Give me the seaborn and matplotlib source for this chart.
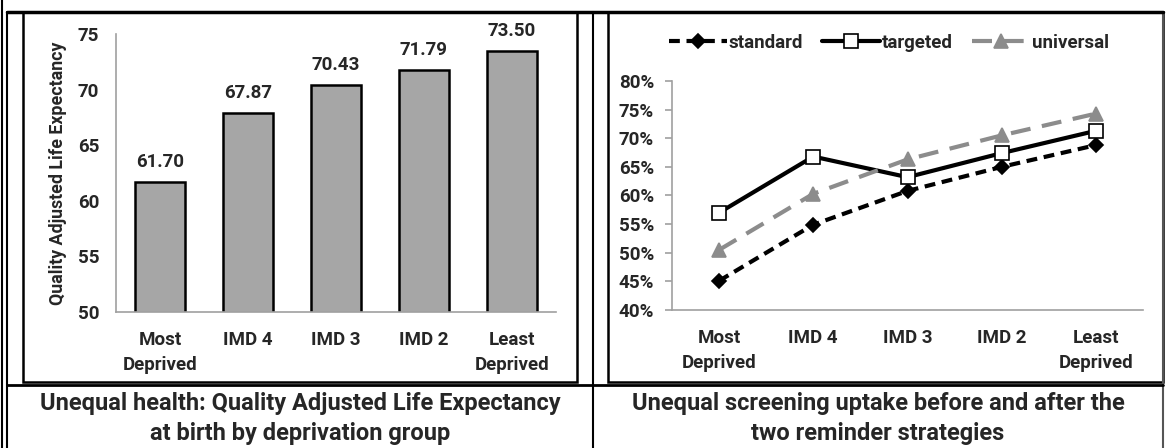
import numpy as np
import pandas as pd
import matplotlib
matplotlib.use("Agg")
import matplotlib.pyplot as plt
import seaborn as sns
from matplotlib.lines import Line2D
from matplotlib.patches import Rectangle
from matplotlib.ticker import PercentFormatter, FixedLocator

# Data
groups = ["Most\nDeprived", "IMD 4", "IMD 3", "IMD 2", "Least\nDeprived"]
qale = [61.70, 67.87, 70.43, 71.79, 73.50]

standard = [0.451, 0.549, 0.608, 0.650, 0.688]
targeted = [0.570, 0.668, 0.632, 0.674, 0.713]
universal = [0.505, 0.603, 0.663, 0.705, 0.743]

caption_left = ["Unequal health: Quality Adjusted Life Expectancy", "at birth by deprivation group"]
caption_right = ["Unequal screening uptake before and after the", "two reminder strategies"]

sns.set_style("white")
plt.rcParams['font.family'] = ['Roboto', 'DejaVu Sans']
plt.rcParams['font.weight'] = 'bold'

W, H = 1166, 448
fig = plt.figure(figsize=(W / 100, H / 100), dpi=100)


def px_axes(x0, y0, x1, y1):
    # pixel box (top-left origin) -> figure axes
    return fig.add_axes([x0 / W, 1 - y1 / H, (x1 - x0) / W, (y1 - y0) / H])


def hline(y, x0, x1, lw=1.5, c="black"):
    fig.add_artist(Line2D([x0 / W, x1 / W], [1 - y / H, 1 - y / H], lw=lw, color=c))


def vline(x, y0, y1, lw=1.5, c="black"):
    fig.add_artist(Line2D([x / W, x / W], [1 - y0 / H, 1 - y1 / H], lw=lw, color=c))


# table frame
vline(2, 0, H)
vline(7, 12, H)
vline(593, 12, H)
vline(1163, 12, H, c="#555555")
hline(12, 7, 1163, lw=2.5)
hline(385, 7, 1163, lw=2)
for (x0, y0, x1, y1) in [(23, 12, 577, 382), (608, 12, 1163, 382)]:
    fig.add_artist(Rectangle((x0 / W, 1 - y1 / H), (x1 - x0) / W, (y1 - y0) / H,
                             fill=False, ec="black", lw=1.8))

FS = 13.5

# left: bar chart
ax1 = px_axes(116, 34, 556, 312)
df1 = pd.DataFrame({"group": groups, "qale": qale})
sns.barplot(data=df1, x="group", y="qale", color="#a6a6a6", edgecolor="black",
            linewidth=1.8, width=0.57, saturation=1, ax=ax1)
ax1.set_ylim(50, 75)
ax1.set_xlim(-0.5, 4.5)
ax1.set_yticks([50, 55, 60, 65, 70, 75])
ax1.set_xlabel("")
ax1.set_ylabel("Quality Adjusted Life Expectancy", fontsize=12.8, fontweight="bold", labelpad=8)
for i, v in enumerate(qale):
    ax1.text(i, v + 1.0, f"{v:.2f}", ha="center", va="bottom", fontsize=FS, fontweight="bold")
ax1.tick_params(axis="y", length=0, labelsize=FS, pad=12)
ax1.tick_params(axis="x", length=0, labelsize=FS, pad=14)
for lab in ax1.get_xticklabels():
    lab.set_linespacing(1.45)
for s in ["top", "right"]:
    ax1.spines[s].set_visible(False)
for s in ["left", "bottom"]:
    ax1.spines[s].set_color("#a0a0a0")
    ax1.spines[s].set_linewidth(1.2)
ax1.patch.set_alpha(0)

# right: line chart
ax2 = px_axes(672, 81, 1143, 310)
series = [
    ("standard", standard, "black", (0, (2.6, 1.6)), "D", "black", "black", 7),
    ("targeted", targeted, "black", "-", "s", "white", "black", 10),
    ("universal", universal, "#8c8c8c", (0, (4.8, 2.8)), "^", "#8c8c8c", "#8c8c8c", 10),
]
handles = []
for name, vals, col, ls, mk, mfc, mec, ms in series:
    d = pd.DataFrame({"group": groups, "v": vals})
    sns.lineplot(data=d, x="group", y="v", color=col, linestyle=ls, linewidth=3,
                 marker=mk, markersize=ms, markerfacecolor=mfc, markeredgecolor=mec,
                 markeredgewidth=1.2, sort=False, ax=ax2)
    handles.append(Line2D([0], [0], color=col, linestyle=ls, linewidth=3, marker=mk,
                          markersize=ms, markerfacecolor=mfc, markeredgecolor=mec,
                          markeredgewidth=1.2, label=name))
ax2.set_ylim(0.40, 0.80)
ax2.set_xlim(-0.5, 4.5)
ax2.set_yticks(np.arange(0.40, 0.801, 0.05))
ax2.yaxis.set_major_formatter(PercentFormatter(1.0, decimals=0))
ax2.xaxis.set_minor_locator(FixedLocator(np.arange(-0.5, 5.0, 1.0)))
ax2.set_xlabel("")
ax2.set_ylabel("")
ax2.tick_params(axis="x", which="major", length=0, labelsize=FS, pad=14)
ax2.tick_params(axis="x", which="minor", length=5, width=1.2, color="#a0a0a0", direction="out")
ax2.tick_params(axis="y", length=5, width=1.2, color="#a0a0a0", labelsize=FS, pad=8, left=True)
for lab in ax2.get_xticklabels():
    lab.set_linespacing(1.45)
for s in ["top", "right"]:
    ax2.spines[s].set_visible(False)
for s in ["left", "bottom"]:
    ax2.spines[s].set_color("#a0a0a0")
    ax2.spines[s].set_linewidth(1.2)
ax2.legend(handles=handles, loc="center", bbox_to_anchor=(0.46, 1.166), ncol=3,
           frameon=False, handlelength=3.1, handletextpad=0.1, columnspacing=1.0,
           prop={"weight": "bold", "size": FS})

# captions
for cx, lines in [(300, caption_left), (878, caption_right)]:
    fig.text(cx / W, 1 - 403 / H, lines[0], ha="center", va="center",
             fontsize=17, fontweight="bold")
    fig.text(cx / W, 1 - 433 / H, lines[1], ha="center", va="center",
             fontsize=17, fontweight="bold")

fig.savefig("out.png", dpi=100)
